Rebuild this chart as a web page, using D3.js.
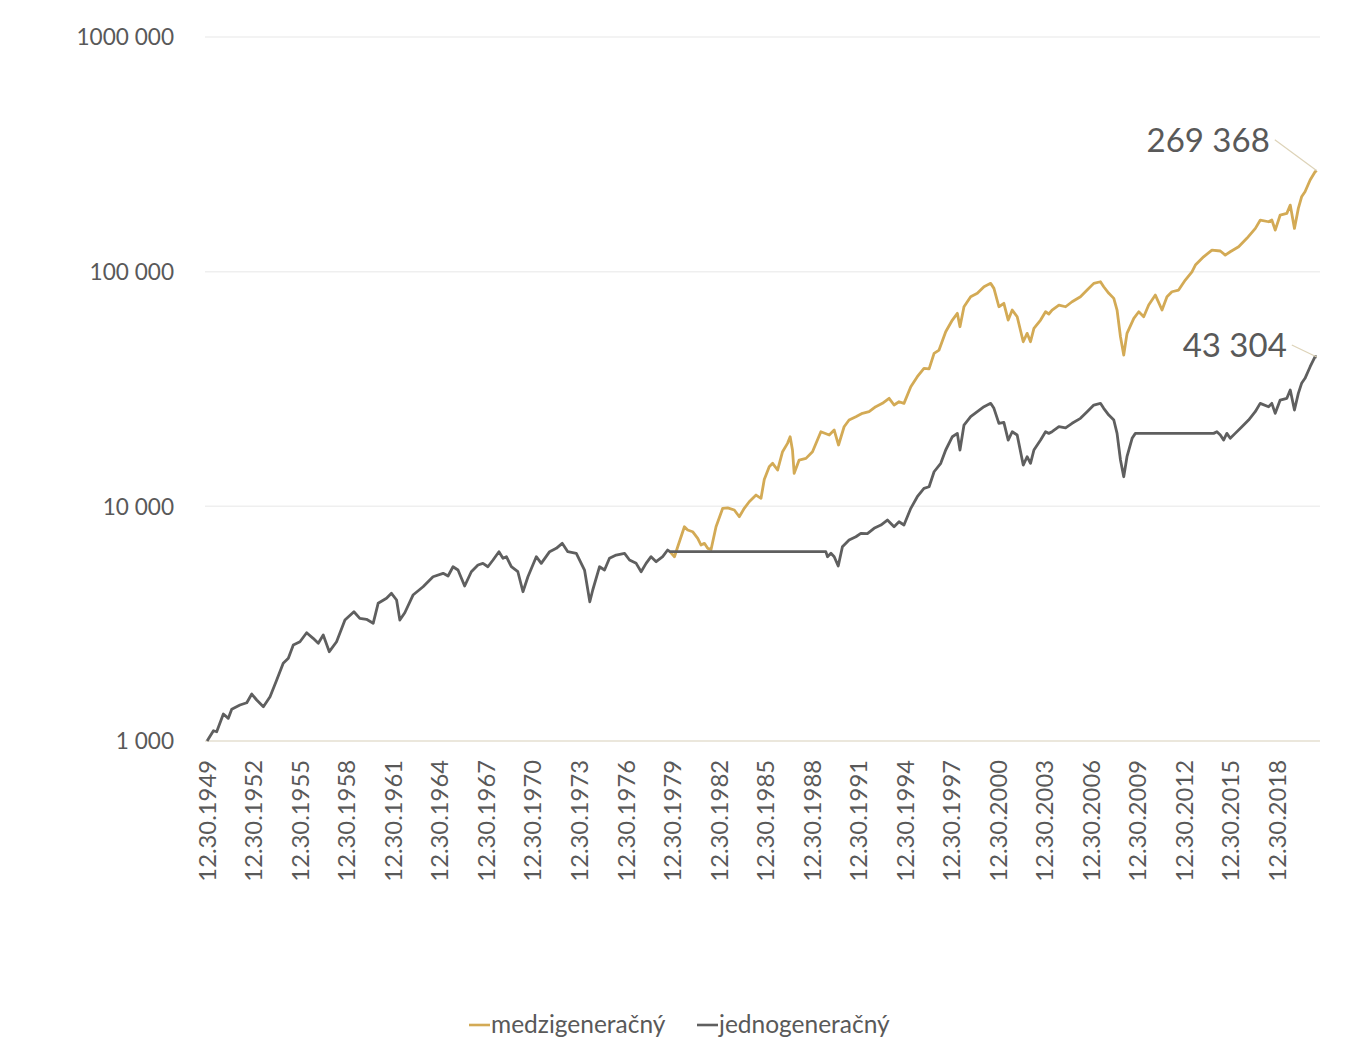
<!DOCTYPE html>
<html>
<head>
<meta charset="utf-8">
<script src="https://cdn.jsdelivr.net/npm/d3@7"></script>
<style>
    body { margin: 0; background: #fff; }
    text { font-family: Lato, "Open Sans", sans-serif; fill: #595959; }
</style>
</head>
<body>
<svg id="chart" width="1360" height="1053"></svg>
<script>
// tick labels of the y axis (as printed in the chart)
const yTicks = [1000, 10000, 100000, 1000000];
const yTickLabels = ["1 000", "10 000", "100 000", "1000 000"];
// every third year, labelled 12.30.YYYY
const xTickYears = d3.range(1949, 2019, 3);

const seriesNames = ["medzigeneračný", "jednogeneračný"];

// jednogeneračný (gray) - decimal years / values
const jednoYears = [
    1950.00, 1950.41, 1950.62, 1951.05, 1951.37, 1951.59, 1952.12, 1952.56, 1952.88, 1953.20,
    1953.63, 1954.06, 1954.49, 1954.91, 1955.24, 1955.56, 1955.99, 1956.42, 1956.84, 1957.17,
    1957.49, 1957.88, 1958.35, 1958.89, 1959.47, 1959.85, 1960.28, 1960.71, 1961.03, 1961.57,
    1961.89, 1962.22, 1962.43, 1962.75, 1963.28, 1963.93, 1964.57, 1965.22, 1965.54, 1965.86,
    1966.18, 1966.61, 1967.04, 1967.47, 1967.79, 1968.11, 1968.44, 1968.82, 1969.08, 1969.30,
    1969.62, 1970.04, 1970.37, 1970.69, 1971.23, 1971.55, 1972.09, 1972.52, 1972.90, 1973.26,
    1973.81, 1974.34, 1974.68, 1974.87, 1975.31, 1975.63, 1975.95, 1976.38, 1976.92, 1977.24,
    1977.67, 1977.99, 1978.31, 1978.63, 1978.96, 1979.38, 1979.70, 1979.85, 1989.90, 1990.01,
    1990.23, 1990.44, 1990.70, 1990.97, 1991.40, 1991.84, 1992.16, 1992.58, 1993.01, 1993.45,
    1993.87, 1994.30, 1994.62, 1994.94, 1995.38, 1995.80, 1996.23, 1996.56, 1996.88, 1997.31,
    1997.63, 1998.06, 1998.38, 1998.55, 1998.81, 1999.24, 1999.67, 2000.10, 2000.53, 2000.74,
    2001.06, 2001.38, 2001.66, 2001.92, 2002.24, 2002.63, 2002.88, 2003.10, 2003.32, 2003.75,
    2004.07, 2004.28, 2004.49, 2004.93, 2005.36, 2005.78, 2006.32, 2006.75, 2007.18, 2007.61,
    2007.82, 2008.15, 2008.47, 2008.68, 2008.90, 2009.11, 2009.32, 2009.65, 2009.86, 2014.91,
    2015.12, 2015.34, 2015.55, 2015.76, 2015.98, 2016.30, 2016.73, 2017.16, 2017.59, 2017.91,
    2018.45, 2018.66, 2018.88, 2019.20, 2019.63, 2019.85, 2020.12, 2020.37, 2020.58, 2020.80,
    2021.13, 2021.45, 2021.56
];
const jednoValues = [
    1000, 1106, 1095, 1303, 1249, 1365, 1423, 1456, 1585, 1495,
    1400, 1545, 1820, 2143, 2250, 2564, 2649, 2893, 2739, 2608,
    2829, 2402, 2649, 3278, 3556, 3333, 3300, 3173, 3862, 4055,
    4259, 3989, 3278, 3520, 4188, 4544, 5012, 5183, 5047, 5529,
    5353, 4576, 5264, 5623, 5715, 5529, 5905, 6408, 6004, 6100,
    5529, 5264, 4326, 5012, 6100, 5715, 6408, 6622, 6955, 6408,
    6307, 5353, 3920, 4400, 5529, 5353, 6004, 6203, 6307, 5905,
    5715, 5264, 5715, 6100, 5808, 6100, 6513, 6410, 6410, 6100,
    6307, 6100, 5567, 6728, 7185, 7421, 7674, 7650, 8060, 8324,
    8742, 8187, 8598, 8324, 9806, 10990, 11930, 12120, 14040, 15250,
    17380, 19800, 20460, 17380, 22210, 24090, 25300, 26570, 27470, 26160,
    22580, 22800, 19160, 20790, 20130, 14990, 16270, 15250, 17380, 19160,
    20790, 20460, 20790, 21840, 21600, 22580, 23710, 25300, 27020, 27470,
    26160, 24490, 23320, 20460, 15750, 13370, 16270, 19490, 20460, 20460,
    20790, 20130, 19160, 20460, 19490, 20460, 21840, 23320, 25300, 27470,
    26570, 27470, 24900, 28380, 28860, 31300, 25720, 30300, 33430, 35120,
    39340, 43400, 43304
];

// medzigeneračný (gold) - starts where the gray line goes flat
const medziYears = [
    1979.85, 1980.14, 1980.35, 1980.78, 1980.99, 1981.31, 1981.64, 1981.85, 1982.07, 1982.28,
    1982.50, 1982.82, 1983.25, 1983.57, 1984.00, 1984.32, 1984.64, 1984.96, 1985.40, 1985.72,
    1985.93, 1986.25, 1986.47, 1986.79, 1987.11, 1987.43, 1987.60, 1987.75, 1987.86, 1988.18,
    1988.62, 1989.04, 1989.58, 1990.12, 1990.44, 1990.72, 1991.08, 1991.40, 1991.84, 1992.26,
    1992.69, 1993.12, 1993.55, 1993.98, 1994.30, 1994.62, 1994.94, 1995.38, 1995.80, 1996.23,
    1996.56, 1996.88, 1997.20, 1997.63, 1998.06, 1998.38, 1998.55, 1998.81, 1999.24, 1999.67,
    2000.10, 2000.53, 2000.74, 2001.06, 2001.38, 2001.66, 2001.92, 2002.24, 2002.63, 2002.88,
    2003.10, 2003.32, 2003.75, 2004.07, 2004.28, 2004.49, 2004.93, 2005.36, 2005.78, 2006.32,
    2006.75, 2007.18, 2007.61, 2007.82, 2008.15, 2008.47, 2008.68, 2008.90, 2009.11, 2009.32,
    2009.76, 2010.08, 2010.40, 2010.72, 2011.15, 2011.58, 2011.90, 2012.22, 2012.65, 2013.08,
    2013.51, 2013.73, 2014.26, 2014.80, 2015.34, 2015.66, 2015.98, 2016.52, 2017.05, 2017.60,
    2017.92, 2018.45, 2018.66, 2018.88, 2019.20, 2019.63, 2019.85, 2020.12, 2020.37, 2020.58,
    2020.80, 2021.13, 2021.45, 2021.56
];
const medziValues = [
    6410, 6100, 6728, 8187, 7925, 7795, 7307, 6842, 6955, 6622,
    6550, 8187, 9806, 9850, 9643, 9030, 9806, 10460, 11170, 10820,
    13000, 14750, 15250, 14280, 17090, 18550, 19800, 17380, 13820, 15750,
    16010, 17090, 20790, 20130, 21140, 18250, 21840, 23320, 24090, 24900,
    25300, 26570, 27470, 28860, 27020, 27910, 27470, 32330, 35670, 38730,
    38500, 44870, 46340, 55440, 62200, 66440, 58250, 70880, 78170, 80830,
    86250, 89150, 84890, 70880, 73280, 62200, 68620, 64240, 50260, 54600,
    50260, 57340, 62200, 67480, 66000, 68620, 72060, 70880, 74440, 78170,
    83480, 89150, 90570, 86250, 80830, 76940, 68620, 52800, 44120, 54600,
    63240, 67480, 64240, 72060, 79480, 68620, 78170, 82110, 83480, 92090,
    99900, 106700, 115700, 123600, 122500, 117700, 121600, 127700, 138700, 152900,
    165900, 163200, 165900, 150400, 174300, 177200, 192200, 152900, 186100, 208500,
    219000, 245700, 266500, 269368
];

const COLORS = { medzi: "#d3aa55", jedno: "#5f5f5f" };

// decimal year -> Date
const yearToDate = y => {
    const yr = Math.floor(y);
    const a = new Date(yr, 0, 1), b = new Date(yr + 1, 0, 1);
    return new Date(+a + (y - yr) * (b - a));
};

const svg = d3.select("#chart");

const xScale = d3.scaleTime()
    .domain([new Date(1949, 11, 30), new Date(2018, 11, 30)])
    .range([207, 1277]);
const yScale = d3.scaleLog().domain([1000, 1000000]).range([741, 37]);

const PLOT_LEFT = 205, PLOT_RIGHT = 1320;

// horizontal grid
svg.append("g")
    .selectAll("line")
    .data(yTicks)
    .enter()
    .append("line")
    .attr("x1", PLOT_LEFT)
    .attr("x2", PLOT_RIGHT)
    .attr("y1", d => yScale(d))
    .attr("y2", d => yScale(d))
    .attr("stroke", d => d === 1000 ? "#e4dfd0" : "#efefef")
    .attr("stroke-width", 1.5);

// y axis labels
const yAxis = d3.axisLeft(yScale)
    .tickValues(yTicks)
    .tickSize(0)
    .tickPadding(0)
    .tickFormat((d, i) => yTickLabels[i]);
const gy = svg.append("g").attr("transform", "translate(174,0)").call(yAxis);
gy.select(".domain").remove();
gy.selectAll("text")
    .attr("font-family", "Lato, sans-serif")
    .attr("font-size", 22.6)
    .attr("fill", "#595959")
    .attr("dy", "0.35em");

// x axis labels, rotated
const xAxis = d3.axisBottom(xScale)
    .tickValues(xTickYears.map(y => new Date(y, 11, 30)))
    .tickSize(0)
    .tickFormat(d3.timeFormat("%m.%d.%Y"));
const gx = svg.append("g").attr("transform", "translate(0,741)").call(xAxis);
gx.select(".domain").remove();
gx.selectAll("text")
    .attr("font-family", "Lato, sans-serif")
    .attr("font-size", 23.8)
    .attr("fill", "#595959")
    .attr("text-anchor", "end")
    .attr("transform", "rotate(-90)")
    .attr("x", -19)
    .attr("y", 0)
    .attr("dy", "0.35em");

// lines
const line = d3.line()
    .x(d => xScale(yearToDate(d[0])))
    .y(d => yScale(d[1]));

const medzi = d3.zip(medziYears, medziValues);
const jedno = d3.zip(jednoYears, jednoValues);

svg.append("path")
    .datum(medzi)
    .attr("fill", "none")
    .attr("stroke", COLORS.medzi)
    .attr("stroke-width", 2.8)
    .attr("stroke-linejoin", "round")
    .attr("d", line);

svg.append("path")
    .datum(jedno)
    .attr("fill", "none")
    .attr("stroke", COLORS.jedno)
    .attr("stroke-width", 2.8)
    .attr("stroke-linejoin", "round")
    .attr("d", line);

// end value labels with leader lines
const fmt = v => d3.format(",")(v).replace(/,/g, " ");
const endLabels = [
    { last: medzi[medzi.length - 1], dx: -47, dy: -19 },
    { last: jedno[jedno.length - 1], dx: -30, dy: 0 }
];
endLabels.forEach(l => {
    const px = xScale(yearToDate(l.last[0])), py = yScale(l.last[1]);
    svg.append("line")
        .attr("x1", px + l.dx + 5)
        .attr("y1", py + l.dy - 12)
        .attr("x2", px)
        .attr("y2", py)
        .attr("stroke", "#ddd3b8")
        .attr("stroke-width", 1.2);
    svg.append("text")
        .attr("x", px + l.dx)
        .attr("y", py + l.dy)
        .attr("text-anchor", "end")
        .attr("font-size", 33)
        .text(fmt(l.last[1]));
});

// legend
const legend = svg.append("g").attr("transform", "translate(469,1033)");
const legendItems = [
    { name: seriesNames[0], color: COLORS.medzi, x: 0 },
    { name: seriesNames[1], color: COLORS.jedno, x: 228 }
];
legendItems.forEach(it => {
    legend.append("line")
        .attr("x1", it.x).attr("x2", it.x + 21)
        .attr("y1", -8).attr("y2", -8)
        .attr("stroke", it.color)
        .attr("stroke-width", 2.6);
    legend.append("text")
        .attr("x", it.x + 22)
        .attr("y", 0)
        .attr("font-size", 24.5)
        .text(it.name);
});
</script>
</body>
</html>
